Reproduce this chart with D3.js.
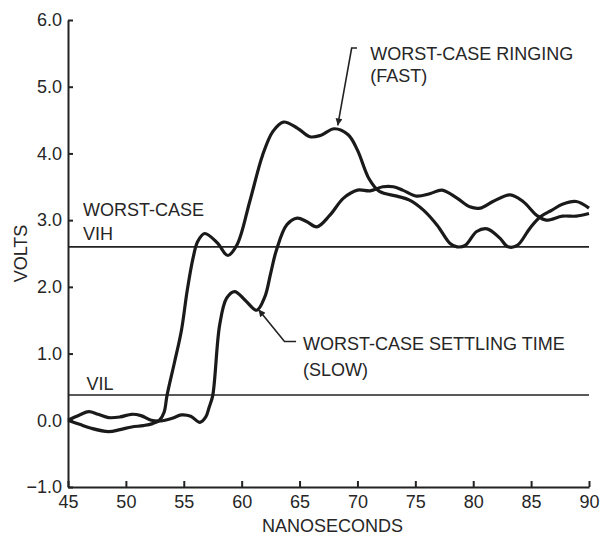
<!DOCTYPE html>
<html lang="en">
<head>
    <meta charset="utf-8">
    <title>Worst-case ringing and settling</title>
    <script src="https://d3js.org/d3.v7.min.js"></script>
    <style type="text/css">
        body{
            margin: 0;
            background: #fff;
        }
        svg text{
            font-family: "Liberation Sans", Arial, sans-serif;
            font-size: 18px;
            fill: #262626;
        }
    </style>
</head>
<body>
    <div id="frame"></div>
    <script type="text/javascript">

        // fast (ringing) trace
        const fastTime  = [45, 46, 47, 48.5, 49.5, 50.5, 51.5, 52.3, 52.9, 53.3, 53.55, 54.2, 54.8, 55.3, 55.8, 56.2, 56.8, 57.9, 58.8, 59.6, 60.7, 61.8, 62.7, 63.6, 64.8, 65.9, 66.8, 68.0, 69.2, 70.0, 71.0, 71.9, 73.4, 74.5, 75.7, 76.9, 78.0, 78.6, 79.3, 80.3, 81.2, 82.3, 83.0, 83.8, 84.9, 85.8, 86.8, 87.7, 88.9, 90];
        const fastVolts = [0.0, -0.06, -0.12, -0.17, -0.14, -0.1, -0.08, -0.05, 0.0, 0.12, 0.37, 0.87, 1.35, 1.95, 2.43, 2.68, 2.8, 2.66, 2.47, 2.63, 3.28, 3.97, 4.33, 4.47, 4.38, 4.25, 4.27, 4.37, 4.28, 4.05, 3.62, 3.43, 3.36, 3.3, 3.15, 2.92, 2.65, 2.6, 2.62, 2.83, 2.87, 2.73, 2.6, 2.62, 2.88, 3.05, 3.15, 3.24, 3.28, 3.18];

        // slow (settling) trace
        const slowTime  = [45, 46, 46.8, 47.6, 48.5, 49.5, 50.5, 51.3, 52.2, 53.0, 54.0, 54.8, 55.6, 56.4, 56.9, 57.2, 57.5, 58.1, 58.7, 59.4, 60.3, 61.3, 62.0, 62.5, 63.0, 63.9, 64.8, 65.6, 66.5, 67.6, 68.8, 70.0, 71.1, 72.2, 73.1, 73.9, 75.1, 76.3, 77.3, 78.6, 79.7, 80.6, 81.7, 83.2, 84.3, 85.5, 86.3, 87.7, 88.9, 90];
        const slowVolts = [0.0, 0.08, 0.13, 0.09, 0.04, 0.05, 0.09, 0.07, 0.0, -0.01, 0.03, 0.08, 0.06, -0.03, 0.05, 0.2, 0.37, 1.43, 1.83, 1.93, 1.8, 1.65, 1.85, 2.2, 2.55, 2.93, 3.03, 2.98, 2.9, 3.07, 3.33, 3.45, 3.44, 3.5, 3.5, 3.45, 3.36, 3.4, 3.45, 3.33, 3.2, 3.18, 3.28, 3.38, 3.28, 3.07, 3.0, 3.06, 3.06, 3.1];

        // thresholds
        const vihLevel = 2.6;
        const vilLevel = 0.38;

        // ticks
        const xTicks = [45, 50, 55, 60, 65, 70, 75, 80, 85, 90];
        const yTicks = [-1, 0, 1, 2, 3, 4, 5, 6];
        const yTickLabels = ["\u22121.0", "0.0", "1.0", "2.0", "3.0", "4.0", "5.0", "6.0"];

        const w = 600, h = 538;
        const margin = {top: 20, right: 11, bottom: 51, left: 68};
        const ink = "#222";

        const svg = d3.select("#frame").append("svg")
            .attr("width", w)
            .attr("height", h);

        const x = d3.scaleLinear().domain([45, 90]).range([margin.left, w - margin.right]);
        const y = d3.scaleLinear().domain([-1, 6]).range([h - margin.bottom, margin.top]);

        // axes, ticks pointing inward
        const xAxis = svg.append("g")
            .attr("transform", "translate(0," + y(-1) + ")")
            .call(d3.axisBottom(x).tickValues(xTicks).tickSizeInner(-6).tickSizeOuter(0).tickPadding(8).tickFormat(d3.format("d")));

        const yAxis = svg.append("g")
            .attr("transform", "translate(" + x(45) + ",0)")
            .call(d3.axisLeft(y).tickValues(yTicks).tickSizeInner(-5).tickSizeOuter(0).tickPadding(6)
                .tickFormat((d, i) => yTickLabels[i]));

        [xAxis, yAxis].forEach(a => {
            a.select(".domain").attr("stroke", ink).attr("stroke-width", 2);
            a.selectAll(".tick line").attr("stroke", ink).attr("stroke-width", 2);
            a.selectAll("text").attr("font-size", null).attr("font-family", null);
        });

        // threshold lines
        svg.selectAll("line.level")
            .data([vihLevel, vilLevel])
            .enter()
            .append("line")
            .attr("class", "level")
            .attr("x1", x(45))
            .attr("x2", x(90))
            .attr("y1", d => y(d))
            .attr("y2", d => y(d))
            .attr("stroke", ink)
            .attr("stroke-width", 1.6);

        // traces
        const line = d3.line()
            .x(d => x(d[0]))
            .y(d => y(d[1]))
            .curve(d3.curveCatmullRom.alpha(0.5));

        const traces = [d3.zip(fastTime, fastVolts), d3.zip(slowTime, slowVolts)];

        svg.selectAll("path.trace")
            .data(traces)
            .enter()
            .append("path")
            .attr("class", "trace")
            .attr("fill", "none")
            .attr("stroke", "#1a1a1a")
            .attr("stroke-width", 3.2)
            .attr("stroke-linejoin", "round")
            .attr("d", line);

        // arrow head
        svg.append("defs").append("marker")
            .attr("id", "head")
            .attr("viewBox", "0 0 10 10")
            .attr("refX", 10)
            .attr("refY", 5)
            .attr("markerWidth", 11)
            .attr("markerHeight", 7)
            .attr("markerUnits", "userSpaceOnUse")
            .attr("orient", "auto")
            .append("path")
            .attr("d", "M0,0L10,5L0,10Z")
            .attr("fill", ink);

        // callouts (data coordinates)
        const fastCallout = [[69.96, 5.58], [69.5, 5.58], [68.3, 4.42]];
        const slowCallout = [[64.7, 1.18], [63.7, 1.18], [61.45, 1.66]];

        svg.selectAll("polyline.callout")
            .data([fastCallout, slowCallout])
            .enter()
            .append("polyline")
            .attr("class", "callout")
            .attr("points", d => d.map(p => x(p[0]) + "," + y(p[1])).join(" "))
            .attr("fill", "none")
            .attr("stroke", ink)
            .attr("stroke-width", 1.6)
            .attr("marker-end", "url(#head)");

        // labels
        const labels = [
            {t: "WORST-CASE RINGING", x: 71.1, y: 5.4},
            {t: "(FAST)", x: 71.1, y: 5.07},
            {t: "WORST-CASE SETTLING TIME", x: 65.3, y: 1.05},
            {t: "(SLOW)", x: 65.3, y: 0.67},
            {t: "WORST-CASE", x: 46.3, y: 3.06},
            {t: "VIH", x: 46.3, y: 2.7},
            {t: "VIL", x: 46.6, y: 0.45}
        ];

        svg.selectAll("text.note")
            .data(labels)
            .enter()
            .append("text")
            .attr("class", "note")
            .attr("x", d => x(d.x))
            .attr("y", d => y(d.y))
            .text(d => d.t);

        svg.append("text")
            .attr("x", (x(45) + x(90)) / 2 + 4)
            .attr("y", h - 6)
            .attr("text-anchor", "middle")
            .text("NANOSECONDS");

        svg.append("text")
            .attr("transform", "translate(27," + (y(2.5)) + ") rotate(-90)")
            .attr("text-anchor", "middle")
            .text("VOLTS");

    </script>
</body>
</html>
